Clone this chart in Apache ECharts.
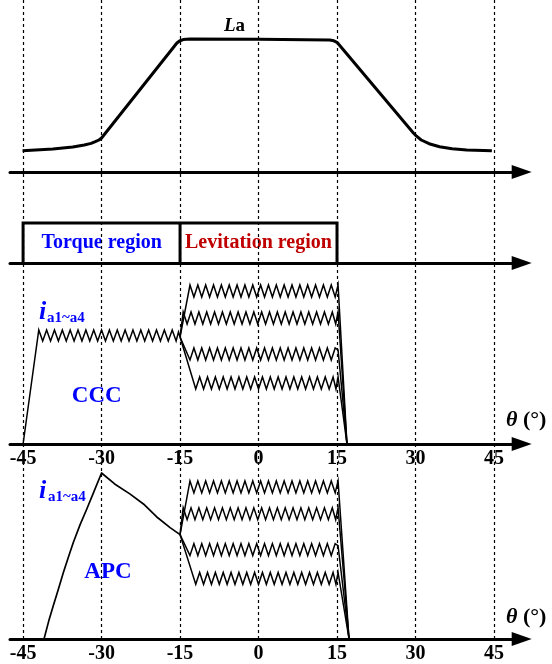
<!DOCTYPE html>
<html><head><meta charset="utf-8">
<script src="https://cdn.jsdelivr.net/npm/echarts@6/dist/echarts.min.js"></script>
<style>html,body{margin:0;padding:0;background:#fff}#c{width:552px;height:664px}</style>
</head><body><div id="c"></div>
<script>
// ---- data (theta in degrees, value in panel units above each axis) ----
const thetaTicks = [-45, -30, -15, 0, 15, 30, 45];

const laCurve = [[-45.1,21.3],[-39.3,23],[-35.5,25],[-33.3,27],[-32.0,28.6],[-31.2,30.3],[-30.5,32],[-30.0,34],[-15.6,129],[-15.1,131],[-14.4,132.4],[-13.1,133],[0,132.7],[13.6,132],[14.4,131.2],[15.0,129.7],[29.6,39],[30.2,35.8],[31.1,32],[32.6,28.3],[34.6,25.3],[37.0,23.3],[39.8,22],[44.6,21.3]];

const regionBox = [[-45,0],[-45,40],[15,40],[15,0]];
const regionDivider = [[-15,0],[-15,40]];

const cccTorque = [[-45,0],[-42.0,114],[-41.25,103],[-40.5,114],[-39.75,103],[-39.0,114],[-38.25,103],[-37.5,114],[-36.75,103],[-36.0,114],[-35.25,103],[-34.5,114],[-33.75,103],[-33.0,114],[-32.25,103],[-31.5,114],[-30.75,103],[-30.0,114],[-29.25,103],[-28.5,114],[-27.75,103],[-27.0,114],[-26.25,103],[-25.5,114],[-24.75,103],[-24.0,114],[-23.25,103],[-22.5,114],[-21.75,103],[-21.0,114],[-20.25,103],[-19.5,114],[-18.75,103],[-18.0,114],[-17.25,103],[-16.5,114],[-15.75,103],[-15.3,112],[-15,107]];

const apcTorque = [[-41,0],[-40.1,18],[-39.2,34],[-38.2,51],[-37.3,67],[-36.3,83],[-35.4,97],[-34.1,115],[-32.8,131],[-31.4,149],[-30,167],[-27.5,156],[-24.6,146],[-21.8,135],[-19.5,123],[-16.9,112],[-15,105]];

const lev1 = [[-13.1,159],[-12.35,147],[-11.6,159],[-10.85,147],[-10.1,159],[-9.35,147],[-8.6,159],[-7.85,147],[-7.1,159],[-6.35,147],[-5.6,159],[-4.85,147],[-4.1,159],[-3.35,147],[-2.6,159],[-1.85,147],[-1.1,159],[-0.35,147],[0.4,159],[1.15,147],[1.9,159],[2.65,147],[3.4,159],[4.15,147],[4.9,159],[5.65,147],[6.4,159],[7.15,147],[7.9,159],[8.65,147],[9.4,159],[10.15,147],[10.9,159],[11.65,147],[12.4,159],[13.15,147],[13.9,159],[14.65,147],[15.2,159]];
const lev2 = [[-14.4,132],[-13.65,120],[-12.9,132],[-12.15,120],[-11.4,132],[-10.65,120],[-9.9,132],[-9.15,120],[-8.4,132],[-7.65,120],[-6.9,132],[-6.15,120],[-5.4,132],[-4.65,120],[-3.9,132],[-3.15,120],[-2.4,132],[-1.65,120],[-0.9,132],[-0.15,120],[0.6,132],[1.35,120],[2.1,132],[2.85,120],[3.6,132],[4.35,120],[5.1,132],[5.85,120],[6.6,132],[7.35,120],[8.1,132],[8.85,120],[9.6,132],[10.35,120],[11.1,132],[11.85,120],[12.6,132],[13.35,120],[14.1,132],[14.75,120],[15.2,132]];
const lev3 = [[-13.1,84],[-12.35,96],[-11.6,84],[-10.85,96],[-10.1,84],[-9.35,96],[-8.6,84],[-7.85,96],[-7.1,84],[-6.35,96],[-5.6,84],[-4.85,96],[-4.1,84],[-3.35,96],[-2.6,84],[-1.85,96],[-1.1,84],[-0.35,96],[0.4,84],[1.15,96],[1.9,84],[2.65,96],[3.4,84],[4.15,96],[4.9,84],[5.65,96],[6.4,84],[7.15,96],[7.9,84],[8.65,96],[9.4,84],[10.15,96],[10.9,84],[11.65,96],[12.4,84],[13.15,96],[13.9,84],[14.65,96],[15.2,94]];
const lev4 = [[-12.0,55],[-11.25,67],[-10.5,55],[-9.75,67],[-9.0,55],[-8.25,67],[-7.5,55],[-6.75,67],[-6.0,55],[-5.25,67],[-4.5,55],[-3.75,67],[-3.0,55],[-2.25,67],[-1.5,55],[-0.75,67],[0,55],[0.75,67],[1.5,55],[2.25,67],[3.0,55],[3.75,67],[4.5,55],[5.25,67],[6.0,55],[6.75,67],[7.5,55],[8.25,67],[9.0,55],[9.75,67],[10.5,55],[11.25,67],[12.0,55],[12.75,67],[13.5,55],[14.25,67],[14.8,55],[15.2,67]];

const cccNode = [-15, 107];
const apcNode = [-15, 105];
const cccDropEnd = [16.9, 0];
const apcDropEnd = [17.3, 0];

// ---- chart ----
const FONT = '"Liberation Serif", "Times New Roman", serif';
const BLUE = '#0000ff', RED = '#c00000';
const AX_MIN = -47.5, AX_MAX = 50.3;
const panels = [
  {top: 2, height: 170, labels: false},
  {top: 213, height: 50, labels: false},
  {top: 274, height: 170, labels: true},
  {top: 470, height: 170, labels: true}
];

const grid = panels.map(p => ({left: 10, width: 511.7, top: p.top, height: p.height}));
grid.push({left: 23.1, width: 470.9, top: 0, height: 640});

const xAxis = panels.map((p, i) => ({
  gridIndex: i, type: 'value', min: AX_MIN, max: AX_MAX,
  axisLine: {show: true, onZero: false, symbol: ['none', 'triangle'], symbolSize: [14, 20],
    lineStyle: {color: '#000', width: 3}},
  axisTick: {show: false}, splitLine: {show: false},
  axisLabel: p.labels ? {show: true, customValues: thetaTicks, margin: 5,
    fontFamily: FONT, fontWeight: 'bold', fontSize: 20, color: '#000'} : {show: false}
}));
xAxis.push({gridIndex: 4, type: 'value', min: -45, max: 45, interval: 15,
  axisLine: {show: false}, axisTick: {show: false}, axisLabel: {show: false},
  splitLine: {show: true, lineStyle: {color: '#000', width: 1.2, type: [3, 3]}}});

const yAxis = panels.map((p, i) => ({gridIndex: i, type: 'value', min: 0, max: p.height, show: false}));
yAxis.push({gridIndex: 4, type: 'value', min: 0, max: 1, show: false});

function line(idx, data, width, extra) {
  return Object.assign({type: 'line', xAxisIndex: idx, yAxisIndex: idx, data: data,
    symbol: 'none', silent: true, animation: false,
    lineStyle: {color: '#000', width: width, join: 'miter'}}, extra || {});
}

const series = [
  {type: 'line', xAxisIndex: 4, yAxisIndex: 4, data: [], symbol: 'none'},
  line(0, laCurve, 3, {lineStyle: {color: '#000', width: 3, join: 'round'}}),
  line(1, regionBox, 3),
  line(1, regionDivider, 3),
  line(2, cccTorque, 1.5)
];
[lev1, lev2, lev3, lev4].forEach(l => {
  series.push(line(2, [cccNode].concat(l, [cccDropEnd]), 1.5));
  series.push(line(3, [apcNode].concat(l, [apcDropEnd]), 1.5));
});
series.push(line(3, apcTorque, 1.7, {lineStyle: {color: '#000', width: 1.7, join: 'round'}}));

function txt(x, y, text, opts) {
  return {type: 'text', x: x, y: y, silent: true,
    style: Object.assign({text: text, fontFamily: FONT, fontWeight: 'bold', verticalAlign: 'middle', align: 'left'}, opts)};
}
const thetaRich = {t: {fontStyle: 'italic', fontWeight: 'bold', fontSize: 22, fontFamily: FONT},
                   n: {fontWeight: 'bold', fontSize: 22, fontFamily: FONT}};
const graphic = [
  txt(224, 26, '{l|L}{a|a}', {rich: {l: {fontStyle: 'italic', fontWeight: 'bold', fontSize: 19, fontFamily: FONT}, a: {fontWeight: 'bold', fontSize: 19, fontFamily: FONT}}}),
  txt(101.7, 243, 'Torque region', {fontSize: 20, fill: BLUE, align: 'center'}),
  txt(185, 243, 'Levitation region', {fontSize: 20, fill: RED}),
  txt(39, 312, 'i', {fontSize: 26, fontStyle: 'italic', fill: BLUE}),
  txt(47, 318, 'a1~a4', {fontSize: 15, fill: BLUE}),
  txt(96.7, 396, 'CCC', {fontSize: 23, fill: BLUE, align: 'center'}),
  txt(39, 491, 'i', {fontSize: 26, fontStyle: 'italic', fill: BLUE}),
  txt(48, 497, 'a1~a4', {fontSize: 15, fill: BLUE}),
  txt(108, 572, 'APC', {fontSize: 23, fill: BLUE, align: 'center'}),
  txt(506, 420, '{t|θ}{n| (°)}', {rich: thetaRich}),
  txt(506, 617, '{t|θ}{n| (°)}', {rich: thetaRich})
];

const chart = echarts.init(document.getElementById('c'), null, {renderer: 'canvas'});
chart.setOption({animation: false, backgroundColor: '#fff', grid, xAxis, yAxis, series, graphic});
</script>
</body></html>
